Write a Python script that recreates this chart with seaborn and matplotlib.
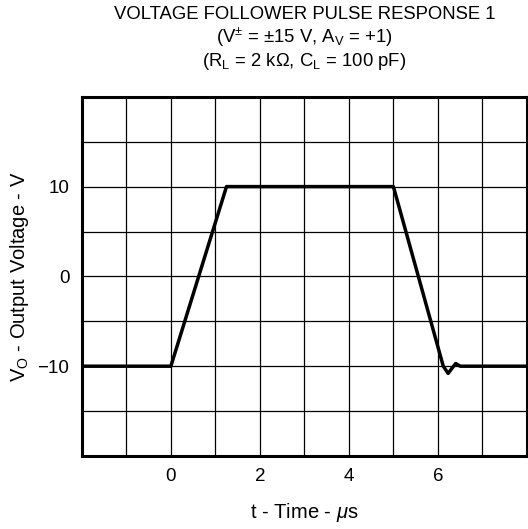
import matplotlib
matplotlib.use("Agg")
import matplotlib.pyplot as plt
import seaborn as sns
import pandas as pd

# valores (tempo em us, tensão em V)
time_us = [-2.0, 0.0, 1.25, 5.0, 6.12, 6.23, 6.32, 6.40, 6.50, 8.0]
vout = [-10.0, -10.0, 10.0, 10.0, -10.0, -10.8, -10.2, -9.7, -10.0, -10.0]

x_ticks = [0, 2, 4, 6]
y_ticks = [-10, 0, 10]
y_tick_labels = ["\u221210", "0", "10"]
x_grid = [-1, 0, 1, 2, 3, 4, 5, 6, 7]
y_grid = [-15, -10, -5, 0, 5, 10, 15]

sns.set_style("white")
plt.rcParams['font.family'] = ['Liberation Sans', 'DejaVu Sans']
plt.rcParams['mathtext.fontset'] = 'custom'
plt.rcParams['mathtext.rm'] = 'Liberation Sans'
plt.rcParams['mathtext.it'] = 'Liberation Sans:italic'
plt.rcParams['text.color'] = 'black'
plt.rcParams['axes.labelcolor'] = 'black'
plt.rcParams['xtick.color'] = 'black'
plt.rcParams['ytick.color'] = 'black'

df = pd.DataFrame({"t": time_us, "v": vout})

fig = plt.figure(figsize=(5.28, 5.29), dpi=100)
ax = fig.add_axes([0.155, 0.138, 0.843, 0.679])

for gx in x_grid:
    ax.axvline(gx, color="black", lw=0.9, zorder=1)
for gy in y_grid:
    ax.axhline(gy, color="black", lw=0.9, zorder=1)

sns.lineplot(data=df, x="t", y="v", ax=ax, color="black", lw=2.5, zorder=3)

ax.set_xlim(-2, 8)
ax.set_ylim(-20, 20)
ax.set_xticks(x_ticks)
ax.set_yticks(y_ticks)
ax.set_yticklabels(y_tick_labels)
ax.tick_params(length=0, labelsize=13.5, pad=9)

for s in ax.spines.values():
    s.set_linewidth(2.2)
    s.set_color("black")

ax.set_xlabel(r"t - Time - $\mu$s", fontsize=14.5, labelpad=11)
ax.set_ylabel(r"V$_{\mathregular{O}}$ - Output Voltage - V", fontsize=14.5, labelpad=5)

ax.set_title("VOLTAGE FOLLOWER PULSE RESPONSE 1\n"
             r"(V$^{\pm}$ = $\pm$15 V, A$_{\mathregular{V}}$ = +1)" "\n"
             r"(R$_{\mathregular{L}}$ = 2 k$\Omega$, C$_{\mathregular{L}}$ = 100 pF)",
             fontsize=13.3, linespacing=1.12, pad=22.5)

fig.savefig("out.png", dpi=100)
